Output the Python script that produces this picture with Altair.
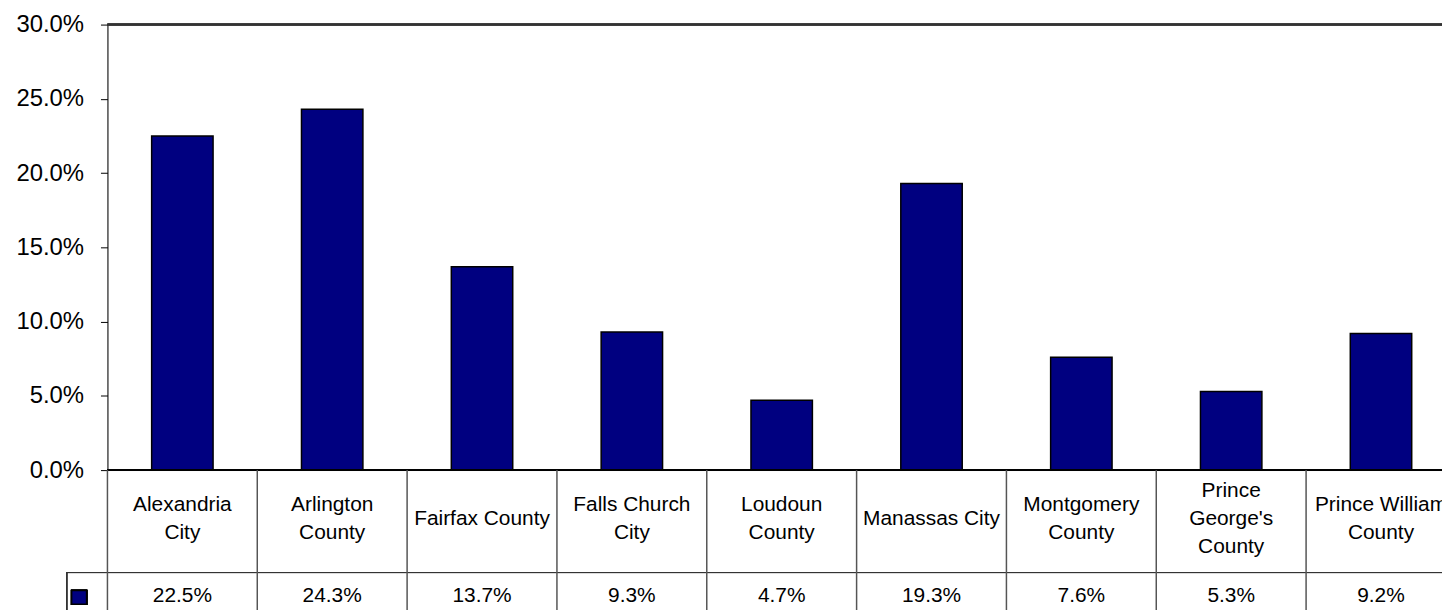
import altair as alt
import pandas as pd

categories = ["Alexandria City", "Arlington County", "Fairfax County", "Falls Church City",
              "Loudoun County", "Manassas City", "Montgomery County",
              "Prince George's County", "Prince William County"]
labels = ["Alexandria\nCity", "Arlington\nCounty", "Fairfax County", "Falls Church\nCity",
          "Loudoun\nCounty", "Manassas City", "Montgomery\nCounty",
          "Prince\nGeorge's\nCounty", "Prince William\nCounty"]
values = [0.225, 0.243, 0.137, 0.093, 0.047, 0.193, 0.076, 0.053, 0.092]
y_ticks = [0.0, 0.05, 0.10, 0.15, 0.20, 0.25, 0.30]

df = pd.DataFrame({"cat": categories, "label": labels, "value": values})

FONT = "Liberation Sans"
PLOT_W = 1342
FULL_W = 1356
PLOT_H = 448
LINE_H = 28
CAT_CENTER = 497

xscale = alt.Scale(range=[0, FULL_W], paddingInner=0, paddingOuter=0)
xenc = alt.X("cat:N", sort=categories, scale=xscale, axis=None)

base = alt.Chart(df)

bars = base.mark_bar(width=alt.RelativeBandSize(0.41), color="#000080",
                     stroke="black", strokeWidth=1.5).encode(
    x=xenc,
    y=alt.Y("value:Q", scale=alt.Scale(domain=[0, 0.30], nice=False),
            axis=alt.Axis(values=y_ticks, format=".1%", title=None, grid=False,
                          labelFontSize=24, labelFont=FONT, labelColor="black",
                          tickSize=7, tickColor="black", domainColor="black",
                          labelPadding=17)),
)

top_line = base.mark_rule(color="#333", strokeWidth=1.5).encode(
    x=alt.value(0), x2=alt.value(FULL_W), y=alt.value(0))

table_top = base.mark_rule(color="black", strokeWidth=1).encode(
    x=alt.value(0), x2=alt.value(FULL_W), y=alt.value(PLOT_H))

row_line = base.mark_rule(color="#333", strokeWidth=1).encode(
    x=alt.value(-41), x2=alt.value(FULL_W), y=alt.value(551))

key_left = base.mark_rule(color="#333", strokeWidth=1).encode(
    x=alt.value(-41), y=alt.value(551), y2=alt.value(660))

separators = base.mark_rule(color="#555", strokeWidth=1.5).encode(
    x=alt.X("cat:N", sort=categories, bandPosition=0),
    y=alt.value(PLOT_H), y2=alt.value(660))

cat_layers = []
for n in (1, 2, 3):
    cat_layers.append(
        base.transform_calculate(nlines="length(split(datum.label, '\\n'))")
        .transform_filter(alt.datum.nlines == n)
        .mark_text(font=FONT, fontSize=21, lineBreak="\n", lineHeight=LINE_H,
                   baseline="middle", align="center", color="black")
        .encode(x=alt.X("cat:N", sort=categories),
                y=alt.value(CAT_CENTER - (n - 1) * LINE_H / 2),
                text="label:N")
    )

val_text = base.mark_text(font=FONT, fontSize=21, baseline="middle", align="center",
                          color="black").encode(
    x=alt.X("cat:N", sort=categories), y=alt.value(575),
    text=alt.Text("value:Q", format=".1%"))

key_box = base.mark_rect(color="#000080", stroke="black", strokeWidth=1.5).encode(
    x=alt.value(-36), x2=alt.value(-21), y=alt.value(569), y2=alt.value(583))

chart = alt.layer(bars, top_line, table_top, row_line, key_left, separators,
                  *cat_layers, val_text, key_box).properties(
    width=PLOT_W, height=PLOT_H,
    autosize=alt.AutoSizeParams(type="none"),
    padding={"left": 100, "top": 15, "right": 0, "bottom": 139},
).configure_view(stroke=None).configure(background="white")

chart.save("out.html", embed_options={"renderer": "svg", "actions": False})
